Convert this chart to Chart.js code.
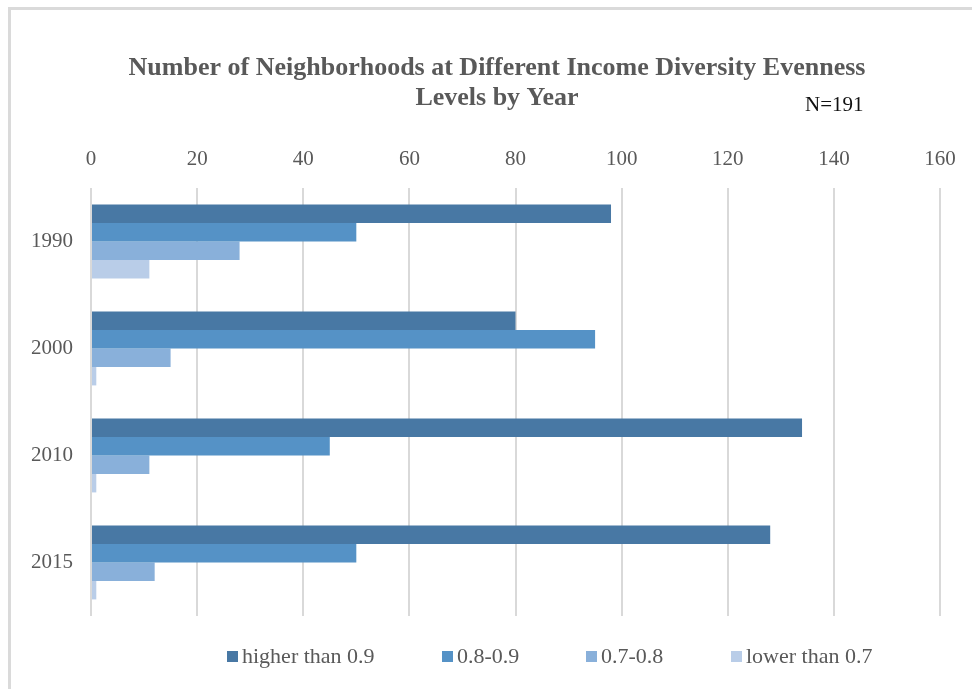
<!DOCTYPE html>
<html>
<head>
<meta charset="utf-8">
<script src="https://cdn.jsdelivr.net/npm/chart.js@4/dist/chart.umd.min.js"></script>
<style>
  body { margin: 0; background: #fff; }
  #wrap { position: relative; width: 972px; height: 689px; }
  #frame { position: absolute; left: 8px; top: 7px; right: 0; bottom: 0;
           border-left: 3px solid #dadada; border-top: 3px solid #dadada; }
  #note { position: absolute; left: 805px; top: 92px; font: 21px 'Liberation Serif', serif; color: #111; }
  #legend { position: absolute; top: 643px; left: 0; width: 972px; height: 24px;
            font: 22px 'Liberation Serif', serif; color: #595959; }
  #legend span.item { position: absolute; top: 0; white-space: nowrap; }
  #legend span.box { display: inline-block; width: 11px; height: 11px; margin-right: 4px; vertical-align: 1px; }
</style>
</head>
<body>
<div id="wrap">
  <div id="frame"></div>
  <canvas id="chart"></canvas>
  <div id="note">N=191</div>
  <div id="legend"></div>
</div>
<script>
// Data
const years = ['1990', '2000', '2010', '2015'];
const seriesNames = ['higher than 0.9', '0.8-0.9', '0.7-0.8', 'lower than 0.7'];
const higherThan09 = [98, 80, 134, 128];
const from08to09 = [50, 95, 45, 50];
const from07to08 = [28, 15, 11, 12];
const lowerThan07 = [11, 1, 1, 1];
const xTicks = [0, 20, 40, 60, 80, 100, 120, 140, 160];

const colors = ['#4878a4', '#5592c6', '#89b0da', '#b9cde8'];
const legendX = [227, 442, 586, 731];

const canvas = document.getElementById('chart');

const chart = new Chart(canvas, {
    type: 'bar',
    data: {
        labels: years,
        datasets: [higherThan09, from08to09, from07to08, lowerThan07].map((vals, i) => ({
            label: seriesNames[i],
            data: vals,
            backgroundColor: colors[i],
            borderWidth: 0,
            barPercentage: 1,
            categoryPercentage: 0.69
        }))
    },
    options: {
        indexAxis: 'y',
        responsive: true,
        maintainAspectRatio: false,
        animation: false,
        layout: { padding: { top: 53, left: 54, right: 32, bottom: 73 } },
        plugins: {
            legend: { display: false },
            tooltip: { enabled: false },
            title: {
                display: true,
                text: ['Number of Neighborhoods at Different Income Diversity Evenness', 'Levels by Year'],
                color: '#595959',
                font: { family: 'Liberation Serif', size: 26, weight: 'bold', lineHeight: 1.15 },
                padding: { top: 0, bottom: 18 }
            }
        },
        scales: {
            x: {
                position: 'top',
                min: xTicks[0],
                max: xTicks[xTicks.length - 1],
                afterBuildTicks: s => { s.ticks = xTicks.map(v => ({ value: v })); },
                ticks: {
                    color: '#595959',
                    padding: 16,
                    font: { family: 'Liberation Serif', size: 21 }
                },
                grid: { color: '#d9d9d9', lineWidth: 2, drawTicks: false },
                border: { display: false }
            },
            y: {
                // fixed axis width; mirrored labels pulled back left of the plot
                afterFit: s => { s.width = 37; },
                ticks: {
                    mirror: true,
                    color: '#595959',
                    padding: -60,
                    font: { family: 'Liberation Serif', size: 21 }
                },
                grid: { display: false, drawTicks: false },
                border: { display: false }
            }
        }
    }
});

// Legend built from the chart's own datasets
const legend = document.getElementById('legend');
chart.data.datasets.forEach((ds, i) => {
    const item = document.createElement('span');
    item.className = 'item';
    item.style.left = legendX[i] + 'px';
    const box = document.createElement('span');
    box.className = 'box';
    box.style.background = ds.backgroundColor;
    item.appendChild(box);
    item.appendChild(document.createTextNode(ds.label));
    legend.appendChild(item);
});
</script>
</body>
</html>
